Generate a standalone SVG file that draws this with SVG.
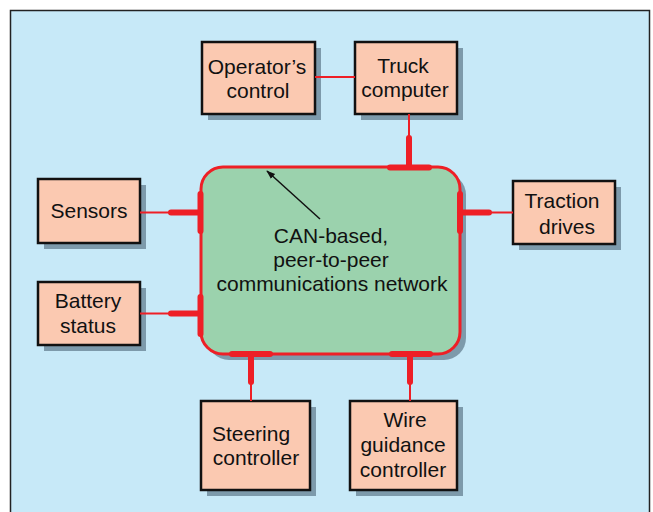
<svg xmlns="http://www.w3.org/2000/svg" width="653" height="512" viewBox="0 0 653 512">
<defs>
<style>
.box{fill:#fbc9b1;stroke:#111;stroke-width:2.5}
.sh{fill:#7d9aab}
.t{font-family:"Liberation Sans",Arial,sans-serif;font-size:21px;fill:#111;text-anchor:middle}
.thin{stroke:#ee1f26;stroke-width:2;fill:none}
.thick{stroke:#ee1f26;stroke-width:6;stroke-linecap:round;fill:none}
</style>
<marker id="ah" viewBox="0 0 10 10" refX="9" refY="5" markerWidth="9" markerHeight="9" markerUnits="userSpaceOnUse" orient="auto">
<path d="M0,1.5 L10,5 L0,8.5 Z" fill="#111"/>
</marker>
</defs>
<rect x="0" y="0" width="653" height="512" fill="#ffffff"/>
<rect x="10.5" y="10.5" width="639" height="510" fill="#c7e9f8" stroke="#222" stroke-width="1.5"/>

<g id="network">
<rect x="207" y="173" width="259" height="187" rx="22" class="sh"/>
<rect x="201" y="167" width="259" height="187" rx="22" fill="#9bd2ad" stroke="#ee1f26" stroke-width="3"/>
<text class="t" x="331" y="243">CAN-based,</text>
<text class="t" x="331" y="267">peer-to-peer</text>
<text class="t" x="332" y="291">communications network</text>
</g>

<g id="operators-control">
<rect x="208" y="48" width="113" height="72" class="sh"/>
<rect x="202" y="42" width="113" height="72" class="box"/>
<text class="t" x="257" y="74">Operator’s</text>
<text class="t" x="258" y="98">control</text>
</g>

<g id="truck-computer">
<rect x="361" y="48" width="102" height="72" class="sh"/>
<rect x="355" y="42" width="102" height="72" class="box"/>
<text class="t" x="403" y="73">Truck</text>
<text class="t" x="405" y="97">computer</text>
</g>

<g id="sensors">
<rect x="44" y="185" width="102" height="64" class="sh"/>
<rect x="38" y="179" width="102" height="64" class="box"/>
<text class="t" x="89" y="218">Sensors</text>
</g>

<g id="battery-status">
<rect x="44" y="288" width="102" height="63" class="sh"/>
<rect x="38" y="282" width="102" height="63" class="box"/>
<text class="t" x="88" y="308">Battery</text>
<text class="t" x="88" y="333">status</text>
</g>

<g id="traction-drives">
<rect x="519" y="187" width="102" height="63" class="sh"/>
<rect x="513" y="181" width="102" height="63" class="box"/>
<text class="t" x="562" y="208">Traction</text>
<text class="t" x="567" y="234">drives</text>
</g>

<g id="steering-controller">
<rect x="207" y="407" width="109" height="89" class="sh"/>
<rect x="201" y="401" width="109" height="89" class="box"/>
<text class="t" x="251" y="441">Steering</text>
<text class="t" x="256" y="465">controller</text>
</g>

<g id="wire-guidance-controller">
<rect x="356" y="407" width="107" height="89" class="sh"/>
<rect x="350" y="401" width="107" height="89" class="box"/>
<text class="t" x="405" y="427">Wire</text>
<text class="t" x="403" y="452">guidance</text>
<text class="t" x="403" y="477">controller</text>
</g>

<g id="connectors">
<line class="thin" x1="315" y1="77" x2="355" y2="77"/>
<line class="thin" x1="409" y1="114" x2="409" y2="140"/>
<line class="thick" x1="409" y1="138" x2="409" y2="167"/>
<line class="thick" x1="390" y1="167.5" x2="429" y2="167.5"/>

<line class="thin" x1="140" y1="212.5" x2="172" y2="212.5"/>
<line class="thick" x1="171" y1="212.5" x2="200" y2="212.5"/>
<line class="thick" x1="200.5" y1="194" x2="200.5" y2="231"/>

<line class="thin" x1="140" y1="313.5" x2="172" y2="313.5"/>
<line class="thick" x1="171" y1="313.5" x2="200" y2="313.5"/>
<line class="thick" x1="200.5" y1="297" x2="200.5" y2="334"/>

<line class="thin" x1="488" y1="212.5" x2="513" y2="212.5"/>
<line class="thick" x1="460" y1="212.5" x2="489" y2="212.5"/>
<line class="thick" x1="460" y1="194" x2="460" y2="231"/>

<line class="thick" x1="232" y1="354" x2="270" y2="354"/>
<line class="thick" x1="251" y1="354" x2="251" y2="382"/>
<line class="thin" x1="251" y1="380" x2="251" y2="401"/>

<line class="thick" x1="392" y1="354" x2="430" y2="354"/>
<line class="thick" x1="410" y1="354" x2="410" y2="382"/>
<line class="thin" x1="410" y1="380" x2="410" y2="401"/>

<line x1="320" y1="219" x2="267" y2="171" stroke="#111" stroke-width="1.5" marker-end="url(#ah)"/>
</g>
</svg>
